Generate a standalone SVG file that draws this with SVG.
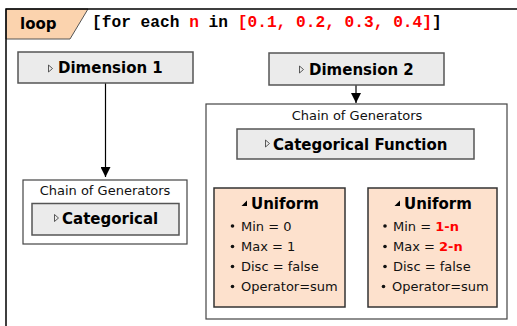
<svg xmlns="http://www.w3.org/2000/svg" width="517" height="326" viewBox="0 0 517 326">
  <defs>
    <marker id="arrow" viewBox="0 0 10 10" refX="10" refY="5" markerWidth="10" markerHeight="10" markerUnits="userSpaceOnUse" orient="auto">
      <path d="M0,0 L10,5 L0,10 z" fill="#000"/>
    </marker>
    <style>
      .title { font-family: "DejaVu Sans", Verdana, sans-serif; font-weight: bold; font-size: 15px; fill: #000; }
      .label { font-family: "DejaVu Sans", Verdana, sans-serif; font-size: 13px; fill: #111; }
      .case { font-family: "Liberation Serif", "Times New Roman", serif; font-size: 14px; fill: #000; }
      .dim { fill: #ebebeb; stroke: #555; stroke-width: 1.5; }
      .chain { fill: #fff; stroke: #444; stroke-width: 1.2; }
      .gen { fill: #fde1cd; stroke: #333; stroke-width: 1.5; }
      .tri { fill: none; stroke: #333; stroke-width: 0.8; }
      .red { fill: #f00; }
      .edge { stroke: #000; stroke-width: 1.2; fill: none; marker-end: url(#arrow); }
    </style>
  </defs>

  <rect x="0" y="0" width="517" height="326" fill="#fff"/>

  <!-- loop frame -->
  <g id="loop">
    <polygon points="6,9 88,9 70,39 6,39" fill="#fbd3ae" stroke="#555" stroke-width="1"/>
    <rect x="6" y="9" width="520" height="330" fill="none" stroke="#000" stroke-width="1.5"/>
    <text x="20" y="29" class="title">loop</text>
    <text x="92" y="27" font-family="'Liberation Mono', 'Courier New', monospace" font-weight="bold" font-size="16.2" fill="#000">[for each <tspan class="red">n</tspan> in <tspan class="red">[0.1, 0.2, 0.3, 0.4]</tspan>]</text>
  </g>

  <!-- connectors -->
  <g id="connectors">
    <line x1="105.5" y1="83" x2="105.5" y2="177" class="edge"/>
    <line x1="356" y1="85" x2="356" y2="103" class="edge"/>
    <line x1="322" y1="159" x2="311" y2="182" class="edge"/>
    <line x1="387" y1="159" x2="402" y2="182" class="edge"/>
    <text x="255" y="176" class="case">case: A<tspan font-size="10" dy="2">1</tspan></text>
    <text x="407" y="176" class="case">case: A<tspan font-size="10" dy="2">2</tspan></text>
  </g>

  <!-- Dimension 1 -->
  <g id="dimension1">
    <rect x="18" y="52" width="175" height="31" class="dim"/>
    <polygon points="48.5,65 48.5,72 52.5,68.5" class="tri"/>
    <text x="58" y="73" class="title">Dimension 1</text>
  </g>

  <!-- Dimension 2 -->
  <g id="dimension2">
    <rect x="269" y="53" width="175" height="32" class="dim"/>
    <polygon points="299.5,66 299.5,73 303.5,69.5" class="tri"/>
    <text x="309" y="74.5" class="title">Dimension 2</text>
  </g>

  <!-- Chain of generators under Dimension 1 -->
  <g id="chain1">
    <rect x="23" y="180" width="164" height="64" class="chain"/>
    <text x="105" y="195" class="label" text-anchor="middle">Chain of Generators</text>
    <rect x="32" y="203.5" width="147" height="31.5" class="dim"/>
    <polygon points="54.5,214.5 54.5,221.5 58.5,218" class="tri"/>
    <text x="62" y="224" class="title">Categorical</text>
  </g>

  <!-- Chain of generators under Dimension 2 -->
  <g id="chain2">
    <rect x="206" y="104" width="301" height="215" class="chain"/>
    <text x="357" y="120" class="label" text-anchor="middle">Chain of Generators</text>
  </g>

  <g id="categoricalFunction">
    <rect x="237" y="129" width="237" height="30" class="dim"/>
    <polygon points="265.5,140 265.5,147 269.5,143.5" class="tri"/>
    <text x="273" y="149.5" class="title">Categorical Function</text>
  </g>

  <!-- Uniform generator, case A1 -->
  <g id="uniform1">
    <rect x="214" y="188" width="131" height="119" class="gen"/>
    <polygon points="241.5,206 247,200.5 247,206" fill="#000"/>
    <text x="251" y="208.5" class="title">Uniform</text>
    <g class="label">
      <circle cx="232.5" cy="226" r="1.8" fill="#111"/>
      <text x="241" y="230.5">Min = 0</text>
      <circle cx="232.5" cy="246.5" r="1.8" fill="#111"/>
      <text x="241" y="251">Max = 1</text>
      <circle cx="232.5" cy="266.5" r="1.8" fill="#111"/>
      <text x="241" y="271">Disc = false</text>
      <circle cx="232.5" cy="286.5" r="1.8" fill="#111"/>
      <text x="241" y="291">Operator=sum</text>
    </g>
  </g>

  <!-- Uniform generator, case A2 -->
  <g id="uniform2">
    <rect x="368" y="188" width="129" height="119" class="gen"/>
    <polygon points="394.5,206 400,200.5 400,206" fill="#000"/>
    <text x="404" y="208.5" class="title">Uniform</text>
    <g class="label">
      <circle cx="385" cy="226" r="1.8" fill="#111"/>
      <text x="393" y="230.5">Min = <tspan font-weight="bold" fill="#f00">1-n</tspan></text>
      <circle cx="385" cy="246.5" r="1.8" fill="#111"/>
      <text x="393" y="251">Max = <tspan font-weight="bold" fill="#f00">2-n</tspan></text>
      <circle cx="385" cy="266.5" r="1.8" fill="#111"/>
      <text x="393" y="271">Disc = false</text>
      <circle cx="383.5" cy="286.5" r="1.8" fill="#111"/>
      <text x="392" y="291">Operator=sum</text>
    </g>
  </g>
</svg>
